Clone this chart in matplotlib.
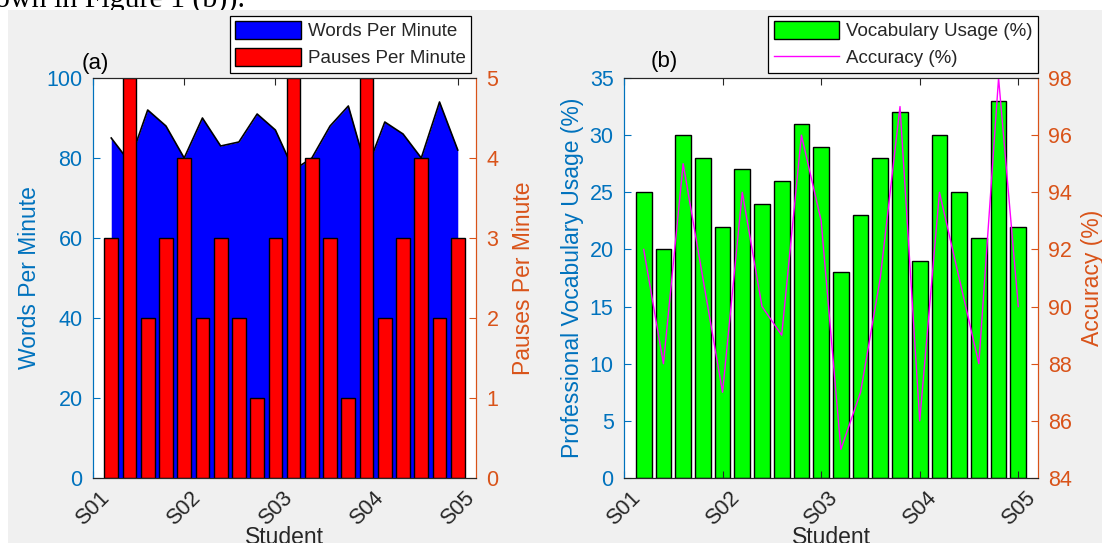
import numpy as np
import matplotlib
matplotlib.use("Agg")
import matplotlib.pyplot as plt
from matplotlib.patches import Patch, Rectangle
from matplotlib.lines import Line2D

plt.rcParams['font.family'] = ['Liberation Sans', 'DejaVu Sans']

# ---------------- data ----------------
tick_labels = ["S01", "S02", "S03", "S04", "S05"]
tick_pos = [0, 5, 10, 15, 20]
n_points = 20
words_per_minute = [85, 79, 92, 88, 80, 90, 83, 84, 91, 87,
                    77, 80, 88, 93, 77, 89, 86, 80, 94, 82]
pauses_per_minute = [3, 5, 2, 3, 4, 2, 3, 2, 1, 3,
                     5, 4, 3, 1, 5, 2, 3, 4, 2, 3]
vocab_usage = [25, 20, 30, 28, 22, 27, 24, 26, 31, 29,
               18, 23, 28, 32, 19, 30, 25, 21, 33, 22]
accuracy = [92, 88, 95, 91, 87, 94, 90, 89, 96, 93,
            85, 87, 91, 97, 86, 94, 91, 88, 98, 90]

BLUE_TXT = '#0072BD'
ORANGE_TXT = '#D95319'
DARK = '#262626'

W, H = 1102, 543
fig = plt.figure(figsize=(W / 100, H / 100), dpi=100, facecolor='white')

# gray figure background (screenshot region) and cut-off document text
rect = Rectangle((8 / W, 0), 1, (H - 10) / H, transform=fig.transFigure,
                 facecolor='#f0f0f0', edgecolor='none', zorder=-1)
fig.patches.append(rect)
fig.text(-5 / W, 1 - 6.5 / H, "own in Figure 1 (b)).", fontfamily='Liberation Serif',
         fontsize=21.5, va='baseline', ha='left', color='black', zorder=-2)


def px_axes(l, r, t, b):
    return fig.add_axes([l / W, 1 - b / H, (r - l) / W, (b - t) / H])


x = np.arange(1, n_points + 1)

TICK_FS = 15.5
LABEL_FS = 16.5


def style_axes(ax, axr, left_lab, right_lab):
    ax.set_xlim(0, 21)
    ax.set_xticks(tick_pos)
    ax.set_xticklabels(tick_labels)
    ax.tick_params(axis='x', direction='in', top=True, length=5, width=0.8,
                   color=DARK, labelcolor=DARK, labelsize=TICK_FS, pad=7)
    for lab in ax.get_xticklabels():
        lab.set_rotation(45)
        lab.set_ha('center')
        lab.set_va('top')
    ax.tick_params(axis='y', direction='in', length=5, width=0.8, pad=7.5,
                   color=BLUE_TXT, labelcolor=BLUE_TXT, labelsize=TICK_FS)
    axr.tick_params(axis='y', direction='in', length=5, width=0.8, pad=7.5,
                    color=ORANGE_TXT, labelcolor=ORANGE_TXT, labelsize=TICK_FS)
    for a in (ax, axr):
        a.spines['left'].set_color(BLUE_TXT)
        a.spines['right'].set_color(ORANGE_TXT)
        a.spines['top'].set_color(DARK)
        a.spines['bottom'].set_color(DARK)
        for s in a.spines.values():
            s.set_linewidth(0.8)
    ax.set_xlabel("Student", fontsize=LABEL_FS, color=DARK)
    ax.xaxis.set_label_coords(0.5, -0.12)
    ax.set_ylabel(left_lab, fontsize=LABEL_FS, color=BLUE_TXT)
    axr.set_ylabel(right_lab, fontsize=LABEL_FS, color=ORANGE_TXT)


LEG_KW = dict(fontsize=13.5, frameon=True, fancybox=False, framealpha=1,
              edgecolor='black', handlelength=3.5, handleheight=1.1,
              handletextpad=0.35, borderpad=0.3, labelspacing=0.4,
              borderaxespad=0)

# ---------------- panel (a) ----------------
ax1 = px_axes(93, 476, 78, 478)
ax1.set_facecolor('white')
ax1.fill_between(x, words_per_minute, 0, color='#0000ff', linewidth=0)
ax1.plot(x, words_per_minute, color='black', lw=1.2)
ax1.set_ylim(0, 100)
ax1.set_yticks(range(0, 101, 20))
ax1b = ax1.twinx()
ax1b.bar(x, pauses_per_minute, width=0.75, color='#ff0000',
         edgecolor='black', linewidth=1.0)
ax1b.set_ylim(0, 5)
ax1b.set_yticks(range(0, 6))
style_axes(ax1, ax1b, "Words Per Minute", "Pauses Per Minute")
ax1b.yaxis.labelpad = 10
ax1.set_xlim(0, 21)
ax1b.set_xlim(0, 21)
fig.text(95 / W, 1 - 64 / H, "(a)", fontsize=16, color='black',
         ha='center', va='center')

leg1 = fig.legend(handles=[Patch(facecolor='#0000ff', edgecolor='black', lw=1),
                           Patch(facecolor='#ff0000', edgecolor='black', lw=1)],
                  labels=["Words Per Minute", "Pauses Per Minute"],
                  loc='upper right', bbox_to_anchor=(471 / W, 1 - 15.5 / H),
                  **LEG_KW)
leg1.get_frame().set_linewidth(0.9)
for t in leg1.get_texts():
    t.set_color(DARK)

# ---------------- panel (b) ----------------
ax2 = px_axes(624, 1038, 78, 478)
ax2.set_facecolor('white')
ax2.bar(x, vocab_usage, width=0.8, color='#00ff00', edgecolor='black', linewidth=1.0)
ax2.set_ylim(0, 35)
ax2.set_yticks(range(0, 36, 5))
ax2b = ax2.twinx()
ax2b.plot(x, accuracy, color='#ff00ff', lw=1.0)
ax2b.set_ylim(84, 98)
ax2b.set_yticks(range(84, 99, 2))
style_axes(ax2, ax2b, "Professional Vocabulary Usage (%)", "Accuracy (%)")
ax2b.yaxis.labelpad = 6
ax2.set_xlim(0, 21)
ax2b.set_xlim(0, 21)
fig.text(664 / W, 1 - 61 / H, "(b)", fontsize=16, color='black',
         ha='center', va='center')

leg2 = fig.legend(handles=[Patch(facecolor='#00ff00', edgecolor='black', lw=1),
                           Line2D([0], [0], color='#ff00ff', lw=1)],
                  labels=["Vocabulary Usage (%)", "Accuracy (%)"],
                  loc='upper right', bbox_to_anchor=(1038 / W, 1 - 15.5 / H),
                  **LEG_KW)
leg2.get_frame().set_linewidth(0.9)
for t in leg2.get_texts():
    t.set_color(DARK)

fig.savefig("out.png", dpi=100, facecolor=fig.get_facecolor())
